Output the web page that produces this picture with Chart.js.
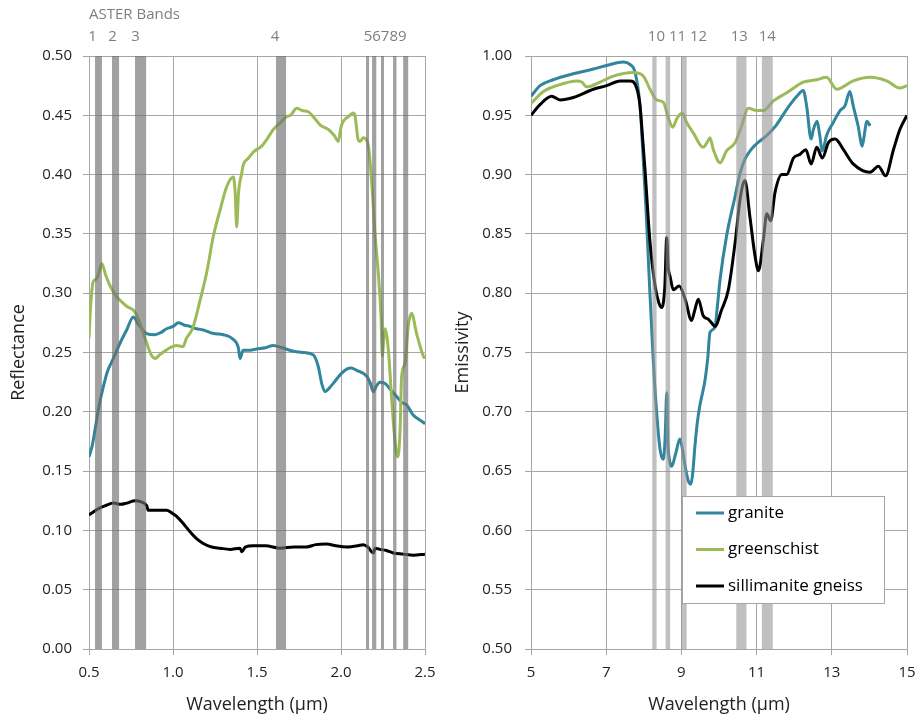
<!DOCTYPE html>
<html>
<head>
<meta charset="utf-8">
<script src="https://cdn.jsdelivr.net/npm/chart.js@4.4.0/dist/chart.umd.min.js"></script>
<style>
  body { margin: 0; background: #fff; }
  #wrap { position: relative; width: 916px; height: 720px; }
  canvas { position: absolute; top: 0; }
  #vnir { left: 0; }
  #tir { left: 440px; }
</style>
</head>
<body>
<div id="wrap">
  <canvas id="vnir" width="440" height="720"></canvas>
  <canvas id="tir" width="476" height="720"></canvas>
</div>
<script>
// --- VNIR / SWIR reflectance (left panel) ---
const graniteVnirWl = [0.50, 0.52, 0.536, 0.56, 0.585, 0.61, 0.635, 0.66, 0.685, 0.724, 0.764, 0.793, 0.843, 0.893, 0.93, 0.962, 1.00, 1.032, 1.07, 1.101, 1.14, 1.18, 1.24, 1.30, 1.359, 1.389, 1.399, 1.418, 1.46, 1.498, 1.55, 1.597, 1.65, 1.716, 1.78, 1.835, 1.865, 1.885, 1.905, 1.93, 1.954, 2.00, 2.034, 2.06, 2.093, 2.153, 2.175, 2.192, 2.212, 2.232, 2.26, 2.282, 2.31, 2.331, 2.36, 2.39, 2.431, 2.46, 2.50];
const graniteVnirRef = [0.162, 0.172, 0.185, 0.205, 0.221, 0.234, 0.242, 0.250, 0.258, 0.269, 0.280, 0.274, 0.266, 0.265, 0.267, 0.270, 0.272, 0.275, 0.273, 0.272, 0.270, 0.269, 0.266, 0.265, 0.261, 0.254, 0.245, 0.252, 0.252, 0.253, 0.254, 0.256, 0.254, 0.251, 0.250, 0.248, 0.238, 0.224, 0.217, 0.220, 0.224, 0.232, 0.236, 0.237, 0.235, 0.230, 0.224, 0.217, 0.222, 0.225, 0.224, 0.221, 0.216, 0.213, 0.208, 0.206, 0.197, 0.194, 0.190];

const greenschistVnirWl = [0.50, 0.51, 0.526, 0.545, 0.56, 0.576, 0.60, 0.63, 0.665, 0.70, 0.724, 0.774, 0.81, 0.853, 0.875, 0.893, 0.92, 0.95, 0.982, 1.02, 1.06, 1.08, 1.10, 1.121, 1.161, 1.20, 1.24, 1.28, 1.32, 1.359, 1.37, 1.379, 1.39, 1.409, 1.418, 1.45, 1.478, 1.528, 1.56, 1.597, 1.64, 1.677, 1.70, 1.736, 1.77, 1.805, 1.84, 1.875, 1.925, 1.96, 1.984, 2.00, 2.014, 2.045, 2.073, 2.083, 2.103, 2.113, 2.133, 2.163, 2.183, 2.202, 2.222, 2.238, 2.246, 2.255, 2.262, 2.282, 2.302, 2.321, 2.337, 2.351, 2.361, 2.381, 2.40, 2.42, 2.45, 2.49, 2.50];
const greenschistVnirRef = [0.262, 0.290, 0.310, 0.312, 0.318, 0.325, 0.315, 0.305, 0.297, 0.292, 0.289, 0.284, 0.272, 0.254, 0.247, 0.245, 0.248, 0.251, 0.254, 0.256, 0.255, 0.262, 0.266, 0.272, 0.294, 0.317, 0.348, 0.370, 0.390, 0.398, 0.385, 0.356, 0.385, 0.401, 0.408, 0.414, 0.419, 0.424, 0.430, 0.438, 0.444, 0.449, 0.450, 0.456, 0.454, 0.453, 0.448, 0.442, 0.438, 0.433, 0.428, 0.440, 0.445, 0.449, 0.452, 0.450, 0.429, 0.428, 0.431, 0.424, 0.393, 0.351, 0.317, 0.281, 0.247, 0.262, 0.270, 0.252, 0.210, 0.176, 0.162, 0.182, 0.230, 0.241, 0.272, 0.283, 0.266, 0.247, 0.245];

const gneissVnirWl = [0.50, 0.53, 0.565, 0.60, 0.645, 0.69, 0.724, 0.774, 0.81, 0.843, 0.853, 0.90, 0.962, 0.99, 1.02, 1.06, 1.10, 1.14, 1.18, 1.23, 1.28, 1.34, 1.399, 1.41, 1.43, 1.478, 1.55, 1.637, 1.72, 1.795, 1.85, 1.915, 1.97, 2.034, 2.10, 2.133, 2.16, 2.192, 2.205, 2.232, 2.27, 2.311, 2.37, 2.431, 2.50];
const gneissVnirRef = [0.113, 0.116, 0.119, 0.121, 0.123, 0.122, 0.123, 0.125, 0.124, 0.121, 0.117, 0.117, 0.117, 0.115, 0.112, 0.106, 0.099, 0.093, 0.089, 0.086, 0.085, 0.084, 0.085, 0.082, 0.086, 0.087, 0.087, 0.085, 0.086, 0.086, 0.088, 0.0885, 0.087, 0.086, 0.087, 0.088, 0.086, 0.081, 0.085, 0.084, 0.083, 0.081, 0.080, 0.079, 0.080];

// --- TIR emissivity (right panel) ---
const graniteTirWl = [5.00, 5.24, 5.59, 6.125, 6.66, 7.01, 7.455, 7.63, 7.77, 7.90, 7.99, 8.06, 8.12, 8.25, 8.386, 8.45, 8.52, 8.57, 8.61, 8.64, 8.68, 8.74, 8.85, 8.96, 9.03, 9.10, 9.18, 9.25, 9.30, 9.36, 9.42, 9.49, 9.63, 9.70, 9.76, 9.89, 9.96, 10.03, 10.2, 10.43, 10.55, 10.69, 10.85, 11.0, 11.27, 11.53, 11.8, 12.07, 12.24, 12.33, 12.45, 12.51, 12.61, 12.67, 12.75, 12.86, 13.04, 13.22, 13.35, 13.48, 13.57, 13.70, 13.81, 13.88, 13.93, 14.02];
const graniteTirEm = [0.966, 0.975, 0.980, 0.985, 0.989, 0.992, 0.995, 0.993, 0.986, 0.958, 0.910, 0.870, 0.829, 0.744, 0.682, 0.665, 0.660, 0.680, 0.716, 0.675, 0.660, 0.654, 0.665, 0.677, 0.668, 0.654, 0.642, 0.639, 0.648, 0.671, 0.690, 0.705, 0.727, 0.745, 0.767, 0.771, 0.790, 0.812, 0.848, 0.882, 0.900, 0.913, 0.921, 0.926, 0.933, 0.942, 0.955, 0.966, 0.971, 0.958, 0.930, 0.938, 0.945, 0.935, 0.920, 0.933, 0.944, 0.954, 0.958, 0.970, 0.958, 0.941, 0.924, 0.937, 0.945, 0.941];

const greenschistTirWl = [5.00, 5.33, 5.68, 6.22, 6.35, 6.48, 6.835, 7.19, 7.72, 7.99, 8.165, 8.34, 8.52, 8.65, 8.77, 8.875, 9.02, 9.14, 9.32, 9.58, 9.68, 9.76, 9.85, 10.03, 10.2, 10.43, 10.60, 10.78, 11.0, 11.18, 11.44, 11.8, 12.24, 12.6, 12.86, 13.13, 13.57, 14.02, 14.46, 14.81, 15.0];
const greenschistTirEm = [0.960, 0.970, 0.975, 0.979, 0.978, 0.974, 0.978, 0.983, 0.986, 0.983, 0.972, 0.963, 0.961, 0.948, 0.940, 0.947, 0.952, 0.944, 0.935, 0.923, 0.927, 0.931, 0.921, 0.910, 0.920, 0.927, 0.941, 0.956, 0.954, 0.954, 0.962, 0.969, 0.978, 0.980, 0.982, 0.972, 0.979, 0.982, 0.979, 0.973, 0.975];

const gneissTirWl = [5.00, 5.24, 5.55, 5.77, 6.125, 6.66, 7.01, 7.37, 7.63, 7.81, 7.90, 7.97, 8.03, 8.165, 8.30, 8.40, 8.476, 8.56, 8.61, 8.65, 8.70, 8.785, 8.94, 9.10, 9.27, 9.35, 9.45, 9.58, 9.72, 9.80, 9.89, 10.07, 10.25, 10.43, 10.56, 10.69, 10.82, 10.96, 11.05, 11.18, 11.27, 11.375, 11.49, 11.67, 11.8, 11.98, 12.15, 12.31, 12.45, 12.6, 12.75, 12.91, 13.09, 13.31, 13.57, 14.02, 14.24, 14.43, 14.64, 14.81, 15.0];
const gneissTirEm = [0.950, 0.959, 0.966, 0.963, 0.965, 0.972, 0.975, 0.979, 0.979, 0.973, 0.958, 0.930, 0.905, 0.843, 0.806, 0.792, 0.788, 0.806, 0.847, 0.822, 0.814, 0.803, 0.806, 0.795, 0.777, 0.785, 0.795, 0.781, 0.778, 0.775, 0.772, 0.786, 0.803, 0.843, 0.879, 0.895, 0.865, 0.831, 0.819, 0.845, 0.867, 0.861, 0.885, 0.900, 0.900, 0.914, 0.917, 0.921, 0.909, 0.923, 0.914, 0.927, 0.930, 0.921, 0.909, 0.902, 0.907, 0.899, 0.921, 0.938, 0.950];

// ASTER band strips (µm) and their header labels
const vnirBandStart = [0.536, 0.637, 0.774, 1.613, 2.149, 2.185, 2.238, 2.310, 2.370];
const vnirBandEnd   = [0.577, 0.679, 0.840, 1.673, 2.167, 2.210, 2.256, 2.330, 2.400];
const vnirBandLabels = ["1", "2", "3", "4", "56789"];
const vnirLabelGroups = [[0], [1], [2], [3], [4, 8]];

const tirBandStart = [8.226, 8.580, 8.990, 10.46, 11.14];
const tirBandEnd   = [8.340, 8.700, 9.140, 10.73, 11.43];
const tirBandLabels = ["10 11 12", "13", "14"];
const tirLabelGroups = [[0, 2], [3], [4]];

const seriesNames = ["granite", "greenschist", "sillimanite gneiss"];

const FONT = "'Open Sans', sans-serif";
const TEAL = "#31859c";
const GREEN = "#9bbb59";
const BLACK = "#000000";
const GRID = "#a6a6a6";

function pts(xs, ys) {
  return xs.map((x, i) => ({ x: x, y: ys[i] }));
}

function line(label, color, data, order) {
  return {
    label: label,
    data: data,
    borderColor: color,
    backgroundColor: color,
    borderWidth: 3,
    pointRadius: 0,
    cubicInterpolationMode: "monotone",
    order: order
  };
}

// gray strips over the curves, plus band numbers above the plot
const bandPlugin = {
  id: "bands",
  afterDatasetsDraw(chart, args, o) {
    const { ctx, chartArea } = chart;
    const xs = chart.scales.x;
    ctx.save();
    ctx.fillStyle = o.color;
    for (let i = 0; i < o.start.length; i++) {
      const x0 = xs.getPixelForValue(o.start[i]);
      const x1 = xs.getPixelForValue(o.end[i]);
      ctx.fillRect(x0, chartArea.top, x1 - x0, chartArea.bottom - chartArea.top);
    }
    ctx.fillStyle = "#7f7f7f";
    ctx.font = "15px " + FONT;
    ctx.textBaseline = "middle";
    ctx.textAlign = "center";
    o.labels.forEach((txt, k) => {
      const g = o.groups[k];
      const a = xs.getPixelForValue(o.start[g[0]]);
      const b = xs.getPixelForValue(o.end[g[g.length - 1]]);
      ctx.fillText(txt, (a + b) / 2 + o.shift[k], 37);
    });
    if (o.title) {
      ctx.textAlign = "left";
      ctx.fillText(o.title, chartArea.left, 15);
    }
    ctx.restore();
  }
};

// boxed legend inside the emissivity plot
const boxLegend = {
  id: "boxLegend",
  afterDraw(chart, args, o) {
    if (!o.show) return;
    const { ctx, chartArea } = chart;
    const x = chartArea.left + o.left;
    const y = chartArea.top + o.top;
    ctx.save();
    ctx.fillStyle = "#fff";
    ctx.fillRect(x, y, o.width, o.height);
    ctx.strokeStyle = GRID;
    ctx.lineWidth = 1;
    ctx.strokeRect(x + 0.5, y + 0.5, o.width, o.height);
    ctx.font = "17px " + FONT;
    ctx.textBaseline = "middle";
    ctx.textAlign = "left";
    chart.data.datasets.forEach((ds, i) => {
      const cy = y + 17 + i * 36.5;
      ctx.strokeStyle = ds.borderColor;
      ctx.lineWidth = 3;
      ctx.beginPath();
      ctx.moveTo(x + 14, cy);
      ctx.lineTo(x + 42, cy);
      ctx.stroke();
      ctx.fillStyle = "#000";
      ctx.fillText(ds.label, x + 46, cy);
    });
    ctx.restore();
  }
};

function options(p) {
  return {
    responsive: false,
    animation: false,
    layout: { padding: { left: 0, right: p.padRight, top: 56, bottom: 0 } },
    plugins: {
      legend: { display: false },
      tooltip: { enabled: false },
      bands: p.bands,
      boxLegend: p.legend || { show: false }
    },
    scales: {
      x: {
        type: "linear",
        min: p.xMin, max: p.xMax,
        ticks: {
          stepSize: p.xStep,
          callback: p.xFmt,
          font: { family: FONT, size: 15 },
          color: "#222",
          padding: 9,
          maxRotation: 0
        },
        grid: { color: GRID, tickLength: 6 },
        border: { color: GRID },
        title: {
          display: true,
          text: "Wavelength (µm)",
          font: { family: FONT, size: 18 },
          color: "#222",
          padding: { top: 0, bottom: 4 }
        },
        afterFit(s) {
          s.height = 71;
          s.paddingLeft = 0;
          s.paddingRight = 0;
        }
      },
      y: {
        type: "linear",
        min: p.yMin, max: p.yMax,
        ticks: {
          stepSize: 0.05,
          callback: v => v.toFixed(2),
          font: { family: FONT, size: 15 },
          color: "#222",
          padding: p.yPad
        },
        grid: { color: GRID, tickLength: 6 },
        border: { color: GRID },
        title: {
          display: true,
          text: p.yTitle,
          font: { family: FONT, size: 18 },
          color: "#222",
          padding: { top: p.yTitlePad, bottom: 0 }
        },
        afterFit(s) {
          s.width = p.yWidth;
          s.paddingTop = 0;
          s.paddingBottom = 0;
        }
      }
    }
  };
}

new Chart(document.getElementById("vnir"), {
  type: "line",
  data: {
    datasets: [
      line(seriesNames[0], TEAL, pts(graniteVnirWl, graniteVnirRef), 3),
      line(seriesNames[1], GREEN, pts(greenschistVnirWl, greenschistVnirRef), 2),
      line(seriesNames[2], BLACK, pts(gneissVnirWl, gneissVnirRef), 1)
    ]
  },
  options: options({
    padRight: 15, yWidth: 89, yPad: 11, yTitlePad: 8,
    xMin: 0.5, xMax: 2.5, xStep: 0.5, xFmt: v => v.toFixed(1),
    yMin: 0, yMax: 0.5, yTitle: "Reflectance",
    bands: {
      start: vnirBandStart, end: vnirBandEnd,
      labels: vnirBandLabels, groups: vnirLabelGroups,
      color: "rgba(110,110,110,0.65)", title: "ASTER Bands",
      shift: [-6, -3, -5, -6, -2]
    }
  }),
  plugins: [bandPlugin, boxLegend]
});

new Chart(document.getElementById("tir"), {
  type: "line",
  data: {
    datasets: [
      line(seriesNames[0], TEAL, pts(graniteTirWl, graniteTirEm), 3),
      line(seriesNames[1], GREEN, pts(greenschistTirWl, greenschistTirEm), 2),
      line(seriesNames[2], BLACK, pts(gneissTirWl, gneissTirEm), 1)
    ]
  },
  options: options({
    padRight: 9, yWidth: 91, yPad: 13, yTitlePad: 12,
    xMin: 5, xMax: 15, xStep: 2, xFmt: v => String(v),
    yMin: 0.5, yMax: 1.0, yTitle: "Emissivity",
    bands: {
      start: tirBandStart, end: tirBandEnd,
      labels: tirBandLabels, groups: tirLabelGroups,
      color: "rgba(150,150,150,0.6)", shift: [8, -2, 0]
    },
    legend: { show: true, left: 151, top: 440, width: 202, height: 107 }
  }),
  plugins: [bandPlugin, boxLegend]
});
</script>
</body>
</html>
